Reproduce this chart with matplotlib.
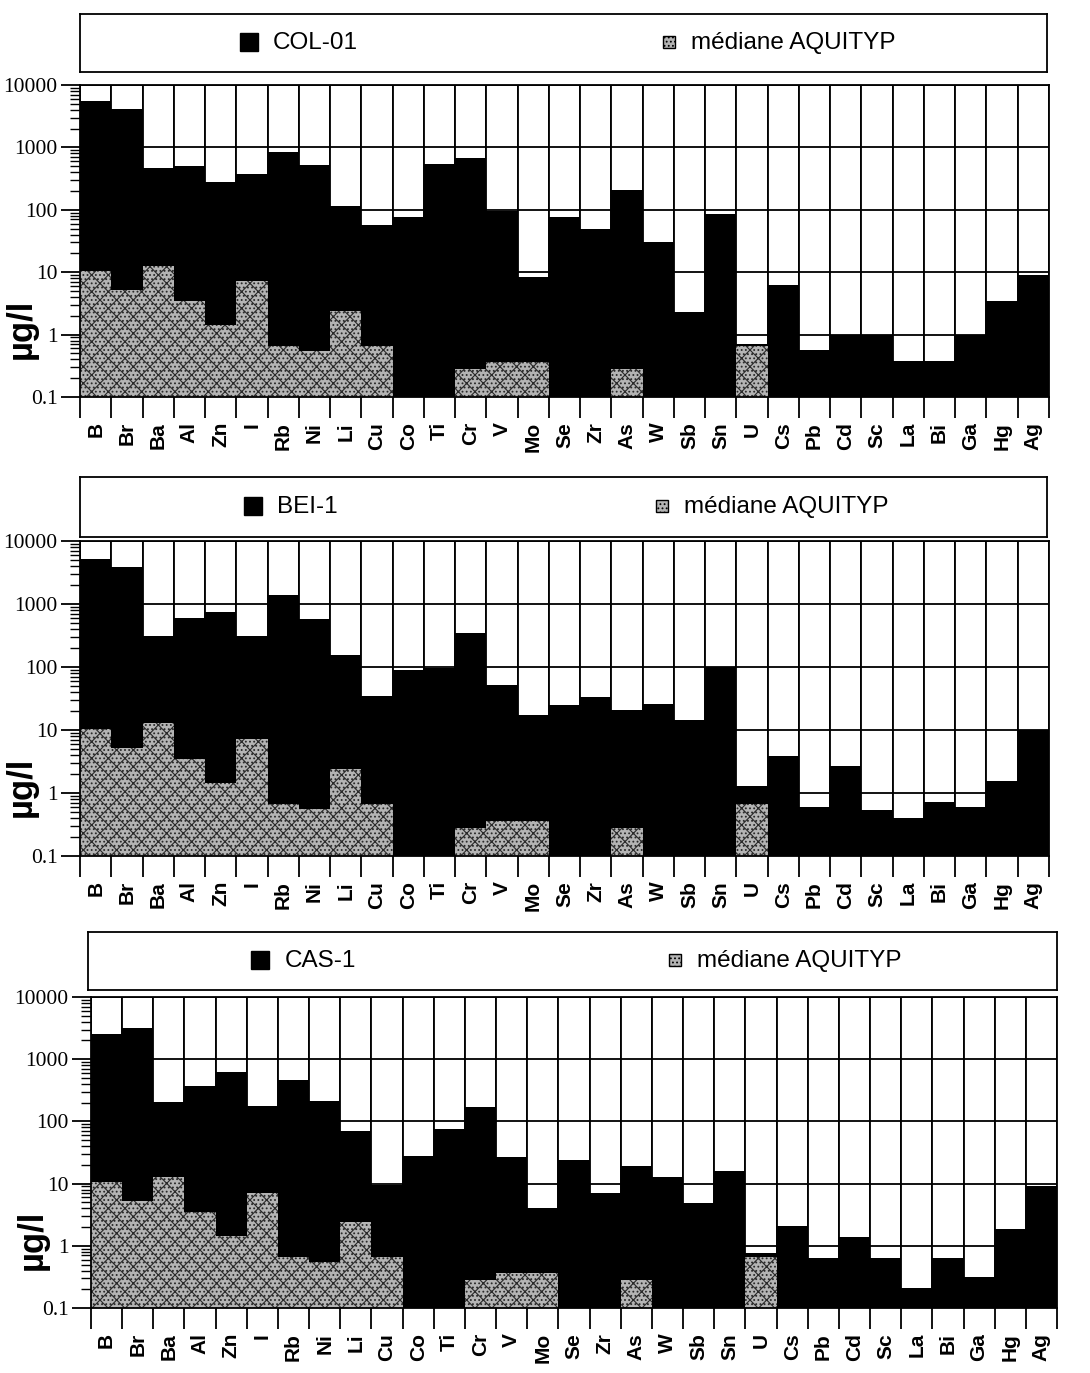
import numpy as np
import matplotlib
matplotlib.use("Agg")
import matplotlib.pyplot as plt
from matplotlib.patches import Rectangle
from matplotlib.ticker import FixedLocator, NullFormatter

elements = ["B", "Br", "Ba", "Al", "Zn", "I", "Rb", "Ni", "Li", "Cu", "Co", "Ti", "Cr", "V",
            "Mo", "Se", "Zr", "As", "W", "Sb", "Sn", "U", "Cs", "Pb", "Cd", "Sc", "La", "Bi",
            "Ga", "Hg", "Ag"]

# médiane AQUITYP (0 = pas de barre)
mediane = [10.5, 5.2, 12.8, 3.5, 1.45, 7.1, 0.66, 0.55, 2.4, 0.66, 0, 0, 0.28, 0.36,
           0.36, 0, 0, 0.28, 0, 0, 0, 0.66, 0, 0, 0, 0, 0, 0, 0, 0, 0]

col01 = [5600, 4150, 470, 505, 280, 380, 850, 525, 116, 58, 77, 552, 680, 94,
         8.4, 78, 50, 210, 31, 2.3, 86, 0.72, 6.3, 0.57, 1.0, 1.0, 0.38, 0.38,
         1.0, 3.4, 9.0]

bei1 = [5200, 3900, 314, 610, 750, 314, 1410, 570, 153, 35, 90, 98, 345, 51,
        17, 25, 34, 21, 26, 14.5, 100, 1.28, 3.9, 0.6, 2.7, 0.53, 0.40, 0.72,
        0.59, 1.55, 10]

cas1 = [2570, 3170, 205, 372, 630, 174, 460, 210, 69, 9.4, 27.5, 76, 168, 27,
        4.0, 23.6, 7.1, 19.3, 12.9, 4.9, 15.8, 0.78, 2.07, 0.64, 1.4, 0.64, 0.21, 0.64,
        0.31, 1.83, 9.2]

W, H = 1090, 1373
plt.rcParams['hatch.linewidth'] = 0.8
GREY = '#b4b4b4'
HATCH = '....xx'


def px_axes(fig, x0, x1, y0, y1):
    """axes placé en pixels (y mesuré depuis le haut)"""
    return fig.add_axes([x0 / W, 1 - y1 / H, (x1 - x0) / W, (y1 - y0) / H])


def legend_box(fig, x0, x1, y0, y1, name, xs):
    lax = px_axes(fig, x0, x1, y0, y1)
    lax.set_xlim(0, 1)
    lax.set_ylim(0, 1)
    lax.set_xticks([])
    lax.set_yticks([])
    for s in lax.spines.values():
        s.set_linewidth(1.3)
    w = x1 - x0
    h = y1 - y0
    lax.plot(xs[0], 0.52, marker='s', color='black', markersize=13)
    lax.text(xs[0] + 24 / w, 0.5, name, fontsize=17.5, va='center', family='Liberation Sans')
    lax.add_patch(Rectangle((xs[1] - 6 / w, 0.52 - 6 / h), 12 / w, 12 / h, facecolor=GREY,
                            edgecolor='black', hatch='....', lw=1.0))
    lax.text(xs[1] + 22 / w, 0.5, "médiane AQUITYP", fontsize=17.5, va='center',
             family='Liberation Sans')


def panel(fig, x0, x1, y0, y1, values):
    ax = px_axes(fig, x0, x1, y0, y1)
    x = np.arange(len(elements))
    vals = np.array(values)
    med = np.array(mediane)

    # cases blanches + grille
    ax.bar(x, 10000 - 0.1, bottom=0.1, width=1, facecolor='white', edgecolor='black',
           lw=1.3, zorder=1)
    for g in [1, 10, 100, 1000]:
        ax.axhline(g, color='black', lw=1.3, zorder=2)

    ax.bar(x, vals - 0.1, bottom=0.1, width=1, color='black', lw=0, zorder=3)
    m = med > 0
    ax.bar(x[m], med[m] - 0.1, bottom=0.1, width=1, facecolor=GREY, edgecolor='#2a2a2a',
           hatch=HATCH, lw=0, zorder=4)

    ax.set_yscale('log')
    ax.set_ylim(0.1, 10000)
    ax.set_xlim(-0.5, len(elements) - 0.5)
    ax.set_yticks([0.1, 1, 10, 100, 1000, 10000])
    ax.set_yticklabels(["0.1", "1", "10", "100", "1000", "10000"], family='Liberation Serif',
                       fontsize=15.5)
    ax.yaxis.set_minor_locator(FixedLocator(
        [d * k for d in [0.1, 1, 10, 100, 1000] for k in range(2, 10)]))
    ax.yaxis.set_minor_formatter(NullFormatter())
    ax.tick_params(axis='y', which='major', direction='out', length=14, width=1.3, pad=2)
    ax.tick_params(axis='y', which='minor', direction='out', length=7, width=1.0)

    ax.set_xticks(np.arange(len(elements) + 1) - 0.5)
    ax.set_xticklabels([])
    ax.set_xticks(x, minor=True)
    ax.set_xticklabels(elements, minor=True, rotation=90, fontsize=15, fontweight='bold',
                       family='Liberation Sans')
    ax.tick_params(axis='x', which='major', direction='out', length=15, width=1.3)
    ax.tick_params(axis='x', which='minor', length=0, pad=18)

    for s in ax.spines.values():
        s.set_linewidth(1.3)
        s.set_zorder(5)
    ax.set_ylabel("µg/l", fontsize=25, fontweight='bold', family='Liberation Sans')
    ax.yaxis.set_label_coords(-0.044, 0.22)
    return ax


fig = plt.figure(figsize=(W / 100, H / 100), dpi=100)

legend_box(fig, 80, 1047, 14, 72, "COL-01", (0.175, 0.609))
panel(fig, 80, 1049, 85, 397, col01)

legend_box(fig, 80, 1047, 477, 537, "BEI-1", (0.179, 0.602))
panel(fig, 80, 1049, 541, 856, bei1)

legend_box(fig, 88, 1057, 932, 990, "CAS-1", (0.178, 0.606))
panel(fig, 91, 1057, 997, 1308, cas1)

fig.savefig("out.png", dpi=100)
